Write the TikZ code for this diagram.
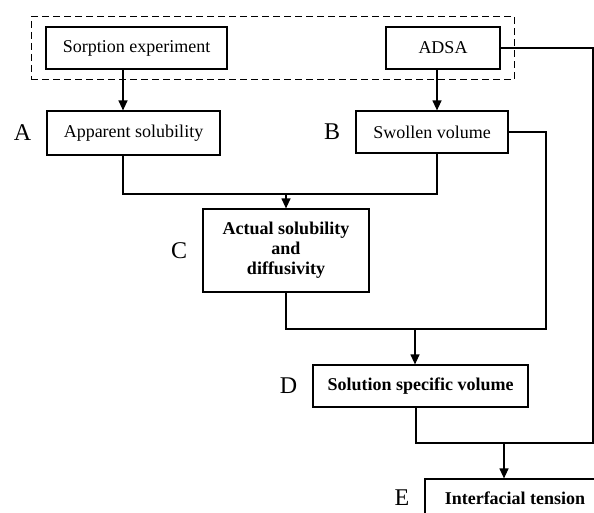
\documentclass[tikz,border=0pt]{standalone}
\usepackage{fontspec}
\setmainfont{Liberation Serif}
\usetikzlibrary{arrows.meta,positioning,fit}

\tikzset{
  stage/.style={draw, line width=1.2pt, minimum height=42pt, inner sep=2pt,
    font=\fontsize{18}{20}\selectfont},
  bstage/.style={stage, align=center, font=\fontsize{18}{20}\selectfont\bfseries},
  tag/.style={inner sep=0pt, font=\fontsize{24}{26}\selectfont},
  link/.style={line width=1.2pt},
  flow/.style={link, -{Triangle[length=10pt,width=9pt]}}
}

\begin{document}
\begin{tikzpicture}[x=1pt,y=-1pt]
\useasboundingbox (0,0) rectangle (594,512);
\clip (0,0) rectangle (594,512);

\node[stage, minimum width=181pt] at (136.5,48) (sorp) {Sorption experiment};
\node[stage, minimum width=114pt] at (443,48) (adsa) {ADSA};
\node[draw, line width=1.2pt, dash pattern=on 7pt off 4pt, inner xsep=14pt, inner ysep=10pt, fit=(sorp)(adsa)] (meas) {};

\node[stage, minimum width=173pt, minimum height=44pt] at (133.5,133) (appsol) {Apparent solubility};
\node[stage, minimum width=152pt] at (432,132) (swol) {Swollen volume};
\node[bstage, minimum width=166pt, minimum height=83pt] at (286,250.5) (actual) {Actual solubility\\and\\diffusivity};
\node[bstage, minimum width=215pt] at (420.5,386) (ssv) {Solution specific volume};
\node[bstage, minimum width=180pt, minimum height=38pt] at (515,498) (ift) {Interfacial tension};

\node[tag, left=15pt of appsol] (la) {A};
\node[tag, left=15pt of swol] (lb) {B};
\node[tag, left=15pt of actual] (lc) {C};
\node[tag, left=15pt of ssv] (ld) {D};
\node[tag, left=15pt of ift] (le) {E};

\coordinate (j1) at (286,194);
\coordinate (j2) at (415,329);
\coordinate (r1) at (546,329);
\coordinate (j3) at (504,443);
\coordinate (r2) at (593,443);

\draw[flow] ([xshift=-13.5pt]sorp.south) -- ([xshift=-13.5pt]sorp.south |- appsol.north);
\draw[flow] ([xshift=-6pt]adsa.south) -- ([xshift=-6pt]adsa.south |- swol.north);

\draw[link] ([xshift=-10.5pt]appsol.south) |- (j1) -| ([xshift=5pt]swol.south);
\draw[flow] (j1) -- (actual.north);

\draw[link] (actual.south) |- (r1) |- (swol.east);
\draw[flow] (j2) -- (ssv.north -| j2);

\draw[link] ([xshift=-4.5pt]ssv.south) |- (r2) |- (adsa.east);
\draw[flow] (j3) -- (ift.north -| j3);
\end{tikzpicture}
\end{document}
